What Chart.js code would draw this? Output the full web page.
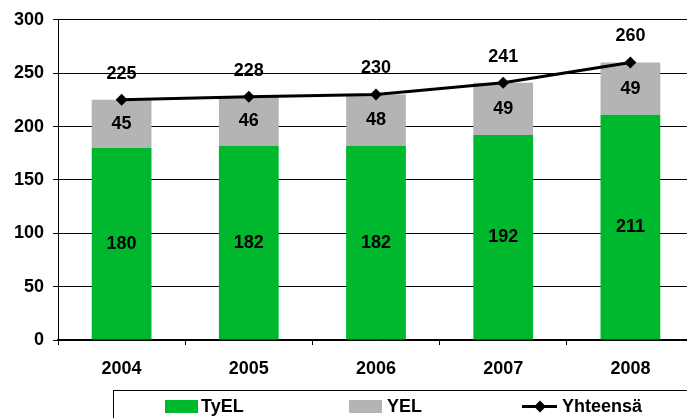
<!DOCTYPE html>
<html>
<head>
    <title>TyEL ja YEL</title>
    <script src="https://cdn.jsdelivr.net/npm/chart.js"></script>
    <style>
        body { margin: 0; overflow: hidden; background: #fff; }
        #wrap { width: 700px; height: 418px; }
    </style>
</head>
<body>
    <div id="wrap"><canvas id="chart"></canvas></div>

    <script>
        const years = ['2004', '2005', '2006', '2007', '2008'];
        const tyel = [180, 182, 182, 192, 211];
        const yel = [45, 46, 48, 49, 49];
        const yhteensa = [225, 228, 230, 241, 260];
        const yTicks = [0, 50, 100, 150, 200, 250, 300];

        const FONT = 'Liberation Sans, Arial, sans-serif';
        const GREEN = '#00b82d';
        const GREY = '#b4b4b4';

        // numbers on bars and above the line, plus the boxed legend below
        const extras = {
            id: 'extras',
            afterDatasetsDraw(chart) {
                const c = chart.ctx;
                c.save();
                c.font = 'bold 18px ' + FONT;
                c.fillStyle = '#000';
                c.textAlign = 'center';
                c.textBaseline = 'middle';
                [0, 1].forEach(i => {
                    chart.getDatasetMeta(i).data.forEach((bar, j) => {
                        const v = chart.data.datasets[i].data[j];
                        c.fillText(v, bar.x, (bar.y + bar.base) / 2);
                    });
                });
                chart.getDatasetMeta(2).data.forEach((pt, j) => {
                    c.fillText(yhteensa[j], pt.x, pt.y - 26);
                });
                c.restore();
            },
            afterDraw(chart) {
                const c = chart.ctx;
                c.save();
                c.strokeStyle = '#000';
                c.lineWidth = 1;
                c.strokeRect(113.5, 390.5, 700, 60);
                c.font = 'bold 18px ' + FONT;
                c.textBaseline = 'middle';
                c.textAlign = 'left';
                c.fillStyle = GREEN;
                c.fillRect(165, 400, 33, 13);
                c.fillStyle = GREY;
                c.fillRect(349, 400, 33, 13);
                c.strokeStyle = '#000';
                c.lineWidth = 3;
                c.beginPath();
                c.moveTo(522, 406.5);
                c.lineTo(557, 406.5);
                c.stroke();
                c.fillStyle = '#000';
                c.beginPath();
                c.moveTo(540, 400.5);
                c.lineTo(546, 406.5);
                c.lineTo(540, 412.5);
                c.lineTo(534, 406.5);
                c.closePath();
                c.fill();
                c.fillText('TyEL', 201, 407);
                c.fillText('YEL', 387, 407);
                c.fillText('Yhteensä', 562, 407);
                c.restore();
            }
        };

        const ctx = document.getElementById('chart').getContext('2d');
        const chart = new Chart(ctx, {
            type: 'bar',
            data: {
                labels: years,
                datasets: [
                    { label: 'TyEL', data: tyel, backgroundColor: GREEN, order: 1,
                      barPercentage: 0.47, categoryPercentage: 1 },
                    { label: 'YEL', data: yel, backgroundColor: GREY, order: 1,
                      barPercentage: 0.47, categoryPercentage: 1 },
                    { label: 'Yhteensä', type: 'line', data: yhteensa, order: 0,
                      borderColor: '#000', borderWidth: 3, pointStyle: 'rectRot',
                      pointRadius: 6, pointBackgroundColor: '#000', pointBorderColor: '#000',
                      pointBorderWidth: 0, tension: 0 }
                ]
            },
            options: {
                responsive: true,
                maintainAspectRatio: false,
                animation: false,
                layout: { padding: { left: 0, right: 2, top: 17, bottom: 0 } },
                plugins: {
                    legend: { display: false },
                    tooltip: { enabled: false }
                },
                scales: {
                    x: {
                        stacked: true,
                        border: { color: '#000', width: 1.5 },
                        grid: { offset: true, drawOnChartArea: false, drawTicks: true,
                                tickLength: 5, color: '#000' },
                        ticks: { color: '#000', font: { family: FONT, size: 18, weight: 'bold' },
                                 padding: 13, maxRotation: 0 },
                        afterFit(s) { s.height = 78; }
                    },
                    y: {
                        stacked: true,
                        min: 0,
                        max: 300,
                        afterBuildTicks(s) { s.ticks = yTicks.map(v => ({ value: v })); },
                        border: { color: '#000', width: 1 },
                        grid: { color: '#000', lineWidth: 1, tickLength: 5 },
                        ticks: { color: '#000', font: { family: FONT, size: 18, weight: 'bold' },
                                 padding: 9 },
                        afterFit(s) { s.width = 58; }
                    }
                }
            },
            plugins: [extras]
        });
    </script>
</body>
</html>
